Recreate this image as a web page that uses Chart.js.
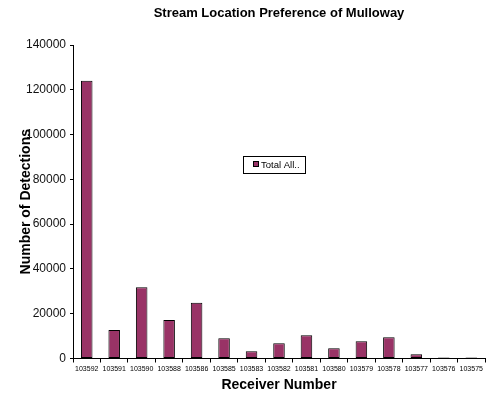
<!DOCTYPE html>
<html>
<head>
<meta charset="utf-8">
<script src="https://cdn.jsdelivr.net/npm/chart.js@4"></script>
<style>
html,body{margin:0;padding:0;background:#fff;}
#wrap{width:500px;height:395px;position:relative;}
</style>
</head>
<body>
<div id="wrap"><canvas id="c" width="500" height="395"></canvas></div>
<script>
const categories = ["103592","103591","103590","103588","103586","103585","103583","103582","103581","103580","103579","103578","103577","103576","103575"];
const totalAll = [124000,12700,31800,17200,24900,9000,3200,6800,10400,4600,7700,9500,1900,500,500];
const seriesLabel = "Total All..";
const chartTitle = "Stream Location Preference of Mulloway";
const xTitle = "Receiver Number";
const yTitle = "Number of Detections";
const yMin = 0, yMax = 140000, yStep = 20000;

const FONT = "'Liberation Sans', Arial, sans-serif";

const legendBox = {
  id: 'legendBox',
  afterDraw(chart) {
    const ctx = chart.ctx;
    const ds = chart.data.datasets[0];
    ctx.save();
    const x = 243.5, y = 156.5, w = 62, h = 17;
    ctx.fillStyle = '#fff';
    ctx.fillRect(x, y, w, h);
    ctx.strokeStyle = '#000';
    ctx.lineWidth = 1;
    ctx.strokeRect(x, y, w, h);
    ctx.fillStyle = ds.backgroundColor;
    ctx.fillRect(253.5, 161.5, 5, 5);
    ctx.strokeStyle = '#000';
    ctx.strokeRect(253.5, 161.5, 5, 5);
    ctx.fillStyle = '#000';
    ctx.font = "9.5px " + FONT;
    ctx.textBaseline = 'middle';
    ctx.textAlign = 'left';
    ctx.fillText(ds.label, 261, 165);
    ctx.restore();
  }
};

new Chart(document.getElementById('c'), {
  type: 'bar',
  data: {
    labels: categories,
    datasets: [{
      label: seriesLabel,
      data: totalAll,
      backgroundColor: '#993366',
      borderColor: '#000',
      borderWidth: 1,
      borderSkipped: false,
      barPercentage: 0.42,
      categoryPercentage: 1
    }]
  },
  options: {
    responsive: false,
    animation: false,
    devicePixelRatio: 1,
    layout: { padding: { left: 0, right: 15, top: 0, bottom: 0 } },
    plugins: {
      legend: { display: false },
      tooltip: { enabled: false },
      title: {
        display: true,
        text: chartTitle,
        fullSize: false,
        color: '#000',
        font: { family: FONT, size: 13, weight: 'bold' },
        padding: { top: 6, bottom: 23.4 }
      }
    },
    scales: {
      x: {
        offset: true,
        grid: { display: true, offset: true, drawOnChartArea: false, drawTicks: true, tickLength: 4, color: '#000' },
        border: { display: true, color: '#000', width: 1 },
        ticks: { color: '#000', font: { family: FONT, size: 7 }, maxRotation: 0, autoSkip: false, padding: 2 },
        title: { display: true, text: xTitle, color: '#000', font: { family: FONT, size: 14, weight: 'bold' }, padding: { top: 0, bottom: 1 } },
        afterFit(scale) { scale.height = 36.5; }
      },
      y: {
        min: yMin, max: yMax,
        grid: { display: true, drawOnChartArea: false, drawTicks: true, tickLength: 3, color: '#000' },
        border: { display: true, color: '#000', width: 1 },
        ticks: { stepSize: yStep, color: '#111', font: { family: FONT, size: 12 }, padding: 4, callback: v => String(v) },
        title: { display: true, text: yTitle, color: '#000', font: { family: FONT, size: 14, weight: 'bold' }, padding: { top: 17.6, bottom: 0 } },
        afterFit(scale) { scale.width = 73; }
      }
    }
  },
  plugins: [legendBox]
});
</script>
</body>
</html>
